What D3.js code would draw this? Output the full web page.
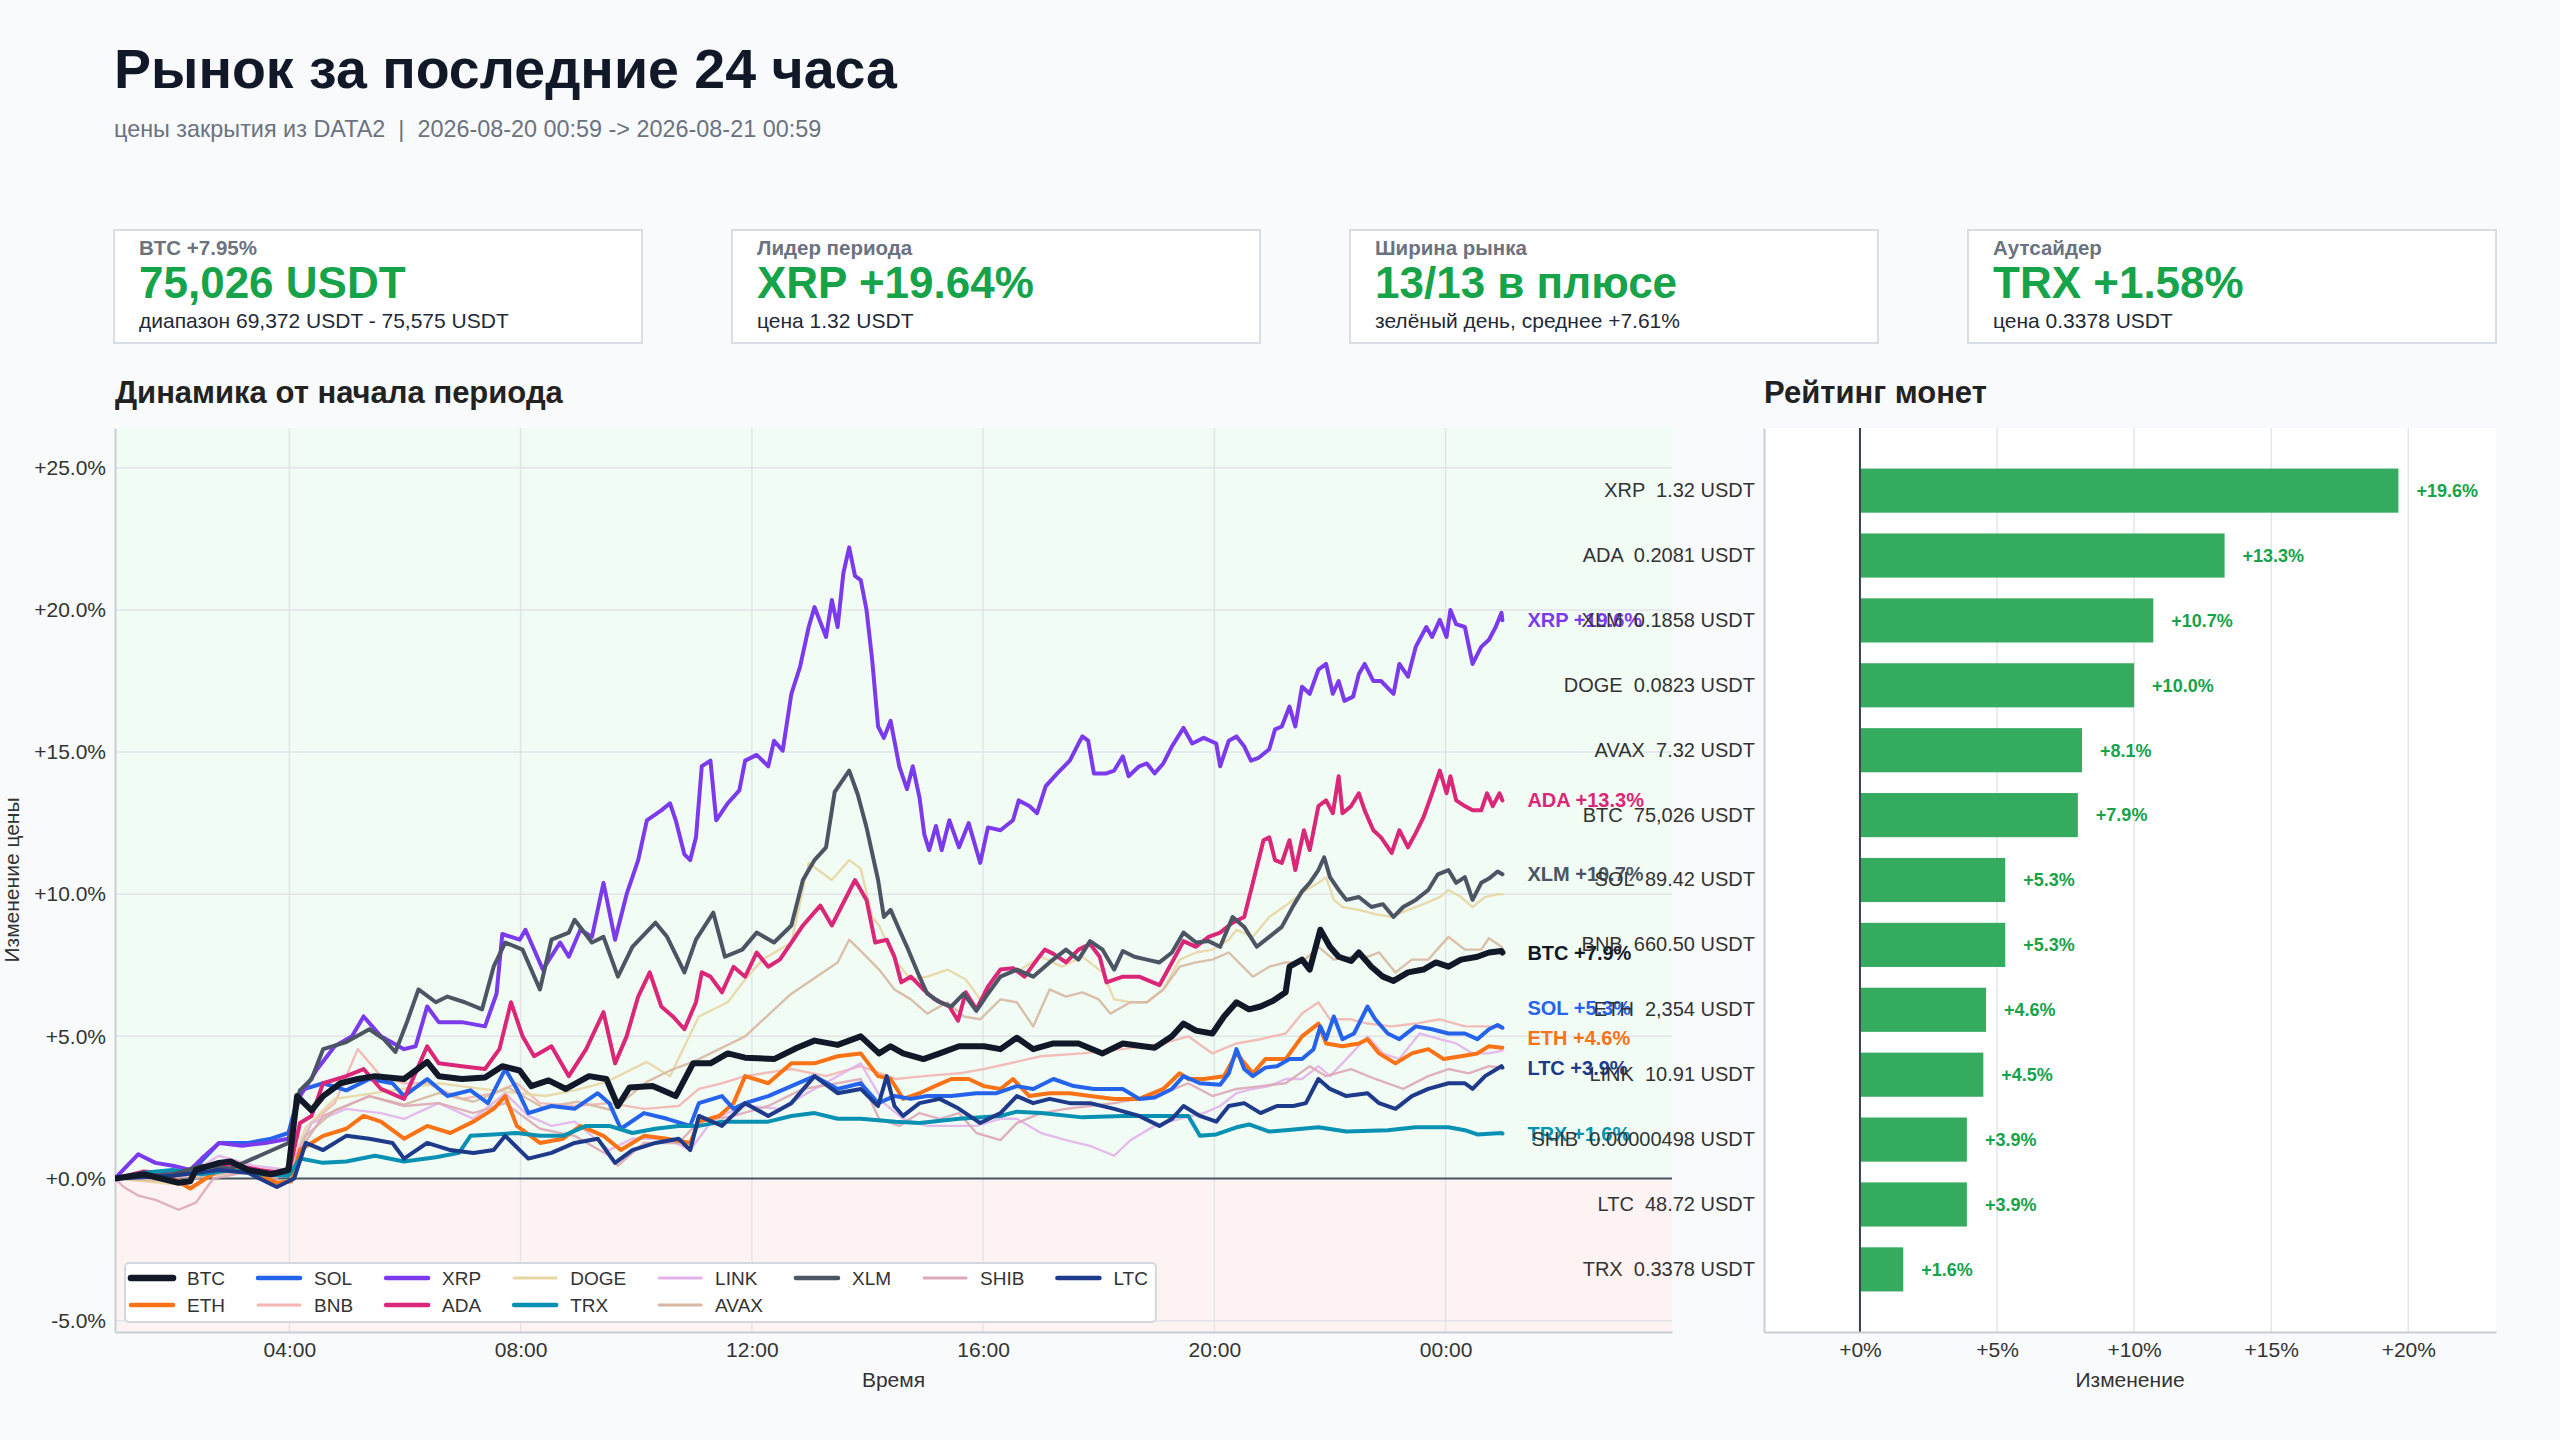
<!DOCTYPE html>
<html lang="ru">
<head>
<meta charset="utf-8">
<title>Рынок за последние 24 часа</title>
<script src="https://cdn.jsdelivr.net/npm/d3@7"></script>
<style>
  body { margin: 0; background: #f8fafc; }
  svg { display: block; font-family: "Liberation Sans", Arial, sans-serif; }
</style>
</head>
<body>
<svg id="chart" width="2560" height="1440"></svg>
<script>
// ---------------- data ----------------
var coins = ["BTC", "ETH", "SOL", "BNB", "XRP", "ADA", "DOGE", "TRX", "LINK", "AVAX", "XLM", "SHIB", "LTC"];
var coinColors = ["#111827", "#f97316", "#2563eb", "#f2b6b3", "#7c3aed", "#db2777", "#e8d6a4", "#0891b2", "#e2b4ea", "#d7b8a2", "#4b5563", "#dba9b7", "#1e3a8a"];
var emphasized = ["BTC", "ETH", "SOL", "XRP", "ADA", "TRX", "XLM", "LTC"];

// hours since 00:59, % change from start
var btcPath = [[0,0],[0.5,0.15],[1.1,-0.15],[1.3,-0.1],[1.4,0.3],[1.8,0.55],[2,0.6],[2.3,0.3],[2.7,0.15],[3,0.3],[3.15,2.9],[3.4,2.4],[3.6,2.9],[3.9,3.35],[4.2,3.5],[4.5,3.6],[5,3.5],[5.4,4.1],[5.6,3.6],[6,3.5],[6.4,3.55],[6.7,3.95],[7,3.8],[7.2,3.25],[7.5,3.45],[7.8,3.15],[8.2,3.6],[8.5,3.5],[8.7,2.55],[8.9,3.2],[9.3,3.25],[9.7,2.9],[10,4.05],[10.3,4.05],[10.6,4.4],[10.9,4.25],[11.4,4.2],[11.8,4.6],[12.1,4.85],[12.5,4.7],[12.9,5.0],[13.21,4.4],[13.42,4.65],[13.63,4.4],[13.98,4.2],[14.26,4.4],[14.6,4.65],[15.04,4.65],[15.32,4.55],[15.6,4.95],[15.88,4.55],[16.23,4.75],[16.66,4.75],[17.08,4.4],[17.43,4.75],[17.78,4.65],[17.99,4.6],[18.28,5.0],[18.49,5.45],[18.7,5.2],[18.98,5.1],[19.19,5.7],[19.4,6.2],[19.61,5.95],[19.82,6.05],[20.04,6.25],[20.25,6.55],[20.32,7.45],[20.53,7.7],[20.67,7.35],[20.85,8.75],[21.02,8.15],[21.16,7.8],[21.38,7.65],[21.52,7.95],[21.73,7.45],[21.94,7.1],[22.12,6.95],[22.36,7.25],[22.64,7.35],[22.85,7.6],[23.07,7.45],[23.28,7.7],[23.56,7.8],[23.77,7.95],[23.98,8.0],[24,7.95]];
var ethPath = [[0,0],[0.5,0.15],[1,0],[1.3,-0.35],[1.8,0.3],[2.3,0.3],[2.8,-0.15],[3.05,-0.1],[3.2,1.0],[3.6,1.5],[4,1.75],[4.3,2.2],[4.6,2.0],[5,1.4],[5.4,1.85],[5.8,1.6],[6.2,2.0],[6.55,2.45],[6.75,2.9],[6.95,1.85],[7.35,1.25],[7.75,1.4],[8.05,1.85],[8.45,1.5],[8.75,1.0],[9.15,1.5],[9.55,1.4],[9.95,1.25],[10.1,2.0],[10.45,2.2],[10.7,2.65],[10.9,3.6],[11.3,3.35],[11.7,4.05],[12.1,4.05],[12.5,4.3],[12.9,4.4],[13.2,3.6],[13.42,3.5],[13.63,2.8],[13.91,3.0],[14.19,3.25],[14.47,3.5],[14.76,3.5],[15.04,3.25],[15.32,3.15],[15.53,3.5],[15.81,2.9],[16.16,3.0],[16.52,3.0],[16.87,2.9],[17.29,2.8],[17.71,2.8],[18.14,3.15],[18.42,3.7],[18.56,3.5],[18.84,3.5],[19.19,3.6],[19.4,4.4],[19.68,3.7],[19.9,4.2],[20.25,4.2],[20.53,5.0],[20.81,5.45],[20.95,4.75],[21.23,4.65],[21.52,4.75],[21.66,4.9],[21.87,4.4],[22.15,4.05],[22.43,4.4],[22.71,4.55],[22.99,4.2],[23.28,4.3],[23.56,4.4],[23.77,4.65],[23.98,4.6],[24,4.6]];
var solPath = [[0,0],[0.6,0.1],[1.3,0.2],[1.8,1.25],[2.3,1.25],[2.7,1.4],[3,1.6],[3.2,3.1],[3.6,3.35],[4,3.1],[4.4,3.5],[4.8,3.35],[5,2.9],[5.4,3.5],[5.75,2.9],[6.15,3.1],[6.45,2.65],[6.75,3.85],[6.95,3.15],[7.15,2.3],[7.55,2.55],[7.95,2.45],[8.35,3.0],[8.55,2.65],[8.75,1.75],[9.15,2.3],[9.55,2.1],[9.95,1.85],[10.1,2.65],[10.5,2.9],[10.7,2.45],[10.9,2.65],[11.3,2.9],[11.7,3.25],[12.1,3.6],[12.5,3.15],[12.9,3.35],[13.2,2.65],[13.49,2.9],[13.77,2.8],[14.05,2.9],[14.47,2.9],[14.9,3.0],[15.25,3.0],[15.6,3.25],[15.88,3.15],[16.23,3.5],[16.59,3.25],[16.94,3.15],[17.43,3.15],[17.71,2.8],[17.99,2.85],[18.28,3.15],[18.49,3.6],[18.77,3.35],[19.12,3.3],[19.26,3.7],[19.4,4.55],[19.54,3.85],[19.68,3.6],[19.9,3.9],[20.1,3.95],[20.32,4.2],[20.53,4.2],[20.74,4.55],[20.85,5.35],[20.95,4.9],[21.09,5.7],[21.23,4.9],[21.44,5.1],[21.66,6.05],[21.8,5.6],[22.01,5.1],[22.22,4.9],[22.5,5.35],[22.78,5.25],[23.07,5.1],[23.35,5.1],[23.56,4.9],[23.77,5.25],[23.91,5.4],[24,5.3]];
var bnbPath = [[0,0],[1,0],[1.8,0.3],[3,0.3],[3.4,1.95],[3.8,2.65],[4.2,4.55],[4.6,3.6],[5,3.35],[5.4,3.35],[6,2.8],[6.55,3.0],[6.95,3.35],[7.35,2.65],[7.95,2.55],[8.55,2.65],[9.15,2.45],[9.75,2.55],[10.1,3.15],[10.5,3.35],[10.9,3.6],[11.7,3.85],[12.3,3.6],[12.9,3.95],[13.5,3.5],[14.0,3.6],[14.6,3.7],[15.04,3.85],[16.02,4.3],[16.73,4.4],[17.43,4.55],[18.14,4.75],[18.56,5.0],[18.98,4.4],[19.4,4.75],[19.82,4.9],[20.25,5.1],[20.53,5.8],[20.81,6.2],[21.02,5.6],[21.38,5.6],[21.66,5.45],[22.08,5.35],[22.5,5.45],[22.92,5.6],[23.35,5.35],[23.77,5.35],[24,5.3]];
var xrpPath = [[0,0],[0.4,0.85],[0.7,0.55],[1,0.45],[1.3,0.3],[1.5,0.7],[1.8,1.25],[2.2,1.15],[2.6,1.25],[3,1.4],[3.2,2.9],[3.5,3.85],[3.8,4.65],[4.1,5.0],[4.3,5.7],[4.6,5.0],[5,4.55],[5.2,4.65],[5.4,6.05],[5.6,5.5],[6,5.5],[6.4,5.35],[6.6,6.5],[6.7,8.6],[7,8.4],[7.1,8.75],[7.4,7.35],[7.7,8.3],[7.85,7.8],[8.05,8.75],[8.25,8.5],[8.45,10.4],[8.65,8.4],[8.85,10.0],[9.05,11.2],[9.2,12.6],[9.45,12.95],[9.6,13.2],[9.7,12.6],[9.85,11.4],[9.95,11.2],[10.05,12.0],[10.15,14.5],[10.3,14.7],[10.4,12.6],[10.6,13.2],[10.8,13.65],[10.9,14.7],[11.1,14.9],[11.3,14.5],[11.4,15.4],[11.55,15.05],[11.7,17.05],[11.85,18.0],[12,19.4],[12.1,20.1],[12.3,19.05],[12.4,20.35],[12.5,19.4],[12.6,21.3],[12.7,22.2],[12.8,21.2],[12.9,21.05],[13.0,20.0],[13.1,18.2],[13.2,15.9],[13.3,15.5],[13.42,16.1],[13.56,14.5],[13.7,13.7],[13.8,14.5],[13.91,13.4],[14.0,12.1],[14.09,11.55],[14.2,12.4],[14.3,11.55],[14.44,12.6],[14.6,11.65],[14.76,12.5],[14.97,11.1],[15.1,12.35],[15.32,12.25],[15.53,12.6],[15.64,13.3],[15.81,13.1],[15.95,12.85],[16.1,13.8],[16.3,14.25],[16.52,14.7],[16.66,15.3],[16.73,15.55],[16.83,15.4],[16.94,14.25],[17.15,14.25],[17.29,14.35],[17.43,14.85],[17.54,14.15],[17.71,14.5],[17.85,14.6],[17.99,14.25],[18.14,14.6],[18.28,15.2],[18.49,15.85],[18.63,15.3],[18.84,15.5],[19.05,15.3],[19.12,14.5],[19.26,15.4],[19.4,15.55],[19.54,15.2],[19.65,14.7],[19.79,14.8],[19.97,15.1],[20.07,15.8],[20.18,15.9],[20.32,16.6],[20.42,15.9],[20.53,17.3],[20.67,17.05],[20.81,17.9],[20.95,18.1],[21.06,17.05],[21.16,17.5],[21.27,16.8],[21.41,16.95],[21.52,17.75],[21.62,18.1],[21.76,17.5],[21.9,17.5],[22.12,17.05],[22.22,18.1],[22.36,17.65],[22.5,18.7],[22.68,19.4],[22.78,19.05],[22.92,19.65],[23.03,19.05],[23.1,20.0],[23.2,19.5],[23.35,19.4],[23.49,18.1],[23.63,18.7],[23.77,18.95],[23.88,19.4],[23.98,19.9],[24,19.64]];
var adaPath = [[0,0],[0.5,0.25],[1,0.15],[1.5,0.4],[2,0.5],[2.5,0.3],[3,0.15],[3.2,1.95],[3.4,2.2],[3.6,3.35],[4,3.6],[4.3,3.85],[4.6,3.15],[5,2.8],[5.4,4.65],[5.6,4.05],[6,3.95],[6.4,3.85],[6.65,4.55],[6.85,6.2],[7.05,5.0],[7.25,4.3],[7.55,4.65],[7.85,3.6],[8.15,4.55],[8.45,5.85],[8.65,4.05],[8.85,5.0],[9.05,6.4],[9.25,7.25],[9.45,6.05],[9.65,5.7],[9.85,5.25],[10.05,6.2],[10.15,7.25],[10.3,7.1],[10.5,6.55],[10.7,7.45],[10.9,7.1],[11.1,7.95],[11.3,7.45],[11.5,7.7],[11.7,8.3],[11.9,8.9],[12.2,9.6],[12.4,8.9],[12.6,9.7],[12.8,10.5],[13.0,9.8],[13.15,8.3],[13.35,8.4],[13.49,7.8],[13.6,6.9],[13.77,7.1],[13.98,6.65],[14.19,6.3],[14.44,6.05],[14.58,5.55],[14.72,6.55],[14.9,5.95],[15.1,6.75],[15.32,7.35],[15.53,7.4],[15.74,7.1],[15.95,7.7],[16.09,8.05],[16.23,7.9],[16.45,7.6],[16.66,8.05],[16.87,8.25],[17.04,7.8],[17.15,6.9],[17.43,7.1],[17.71,7.1],[18.07,6.8],[18.28,7.6],[18.49,8.35],[18.7,8.15],[18.91,8.5],[19.12,8.65],[19.33,9.0],[19.54,9.2],[19.68,10.4],[19.86,11.9],[19.97,12.0],[20.07,11.2],[20.18,11.1],[20.32,11.9],[20.42,10.85],[20.56,12.25],[20.67,11.55],[20.81,13.1],[20.95,13.3],[21.06,12.85],[21.16,14.15],[21.23,12.85],[21.38,13.1],[21.52,13.55],[21.62,12.95],[21.76,12.25],[21.9,12.0],[22.08,11.45],[22.22,12.25],[22.36,11.65],[22.5,12.15],[22.64,12.7],[22.78,13.55],[22.92,14.35],[23.03,13.55],[23.1,14.15],[23.2,13.3],[23.35,13.1],[23.49,12.95],[23.63,12.95],[23.74,13.55],[23.84,13.1],[23.95,13.55],[24,13.3]];
var dogePath = [[0,0],[0.5,-0.1],[1,-0.2],[1.5,0.1],[2,0.4],[2.5,0.3],[3,0.2],[3.3,1.8],[3.8,2.8],[4.8,3.1],[5.6,3.35],[6.55,3.1],[7.45,2.9],[7.95,3.1],[8.5,3.4],[9.2,4.1],[9.6,3.6],[10.1,5.7],[10.6,6.2],[10.9,7.0],[11.2,7.7],[11.7,8.3],[12.0,11.1],[12.4,10.5],[12.7,11.2],[12.9,10.9],[13.1,9.2],[13.21,8.9],[13.49,7.7],[13.77,7.0],[14.05,7.1],[14.4,7.35],[14.72,7.0],[14.97,6.3],[15.32,7.1],[15.67,7.35],[16.02,7.8],[16.38,7.45],[16.73,7.8],[17.08,7.25],[17.29,6.3],[17.57,6.2],[17.85,6.2],[18.14,6.65],[18.42,7.7],[18.7,7.95],[18.98,8.05],[19.26,8.4],[19.4,8.75],[19.68,8.5],[19.97,9.2],[20.25,9.6],[20.53,10.05],[20.81,10.4],[20.95,10.6],[21.09,9.8],[21.23,9.55],[21.52,9.45],[21.8,9.3],[22.08,9.2],[22.36,9.45],[22.64,9.65],[22.92,9.9],[23.07,10.15],[23.28,9.9],[23.49,9.55],[23.7,9.9],[23.91,10.0],[24,10.0]];
var trxPath = [[0,0],[0.5,0.2],[1,0.3],[1.5,0.15],[2,0.3],[2.5,0.15],[3,0.1],[3.2,0.7],[3.6,0.55],[4,0.6],[4.5,0.8],[5,0.6],[5.55,0.75],[5.95,0.9],[6.15,1.5],[6.55,1.55],[6.95,1.6],[7.35,1.5],[7.75,1.5],[8.15,1.85],[8.55,1.85],[8.95,1.6],[9.35,1.75],[9.75,1.85],[10.1,1.85],[10.5,2.0],[10.9,2.0],[11.3,2.0],[11.7,2.2],[12.1,2.3],[12.5,2.1],[12.9,2.1],[13.5,2.0],[13.91,1.95],[14.6,2.1],[15.32,2.2],[15.6,2.35],[16.02,2.3],[16.73,2.15],[17.43,2.2],[18.14,2.2],[18.56,2.2],[18.77,1.5],[19.05,1.55],[19.4,1.8],[19.61,1.9],[19.97,1.65],[20.25,1.7],[20.81,1.8],[21.3,1.65],[22.01,1.7],[22.5,1.8],[23.07,1.8],[23.35,1.7],[23.56,1.55],[23.98,1.6],[24,1.58]];
var linkPath = [[0,0],[0.6,0.1],[1.3,0.2],[1.8,0.8],[2.4,0.45],[3,0.3],[3.4,1.95],[4,2.45],[4.6,2.3],[5,2.1],[5.6,2.65],[6.2,2.1],[6.75,3.0],[7.15,2.2],[7.55,1.85],[7.95,2.0],[8.55,1.0],[8.95,1.4],[9.55,1.4],[9.95,1.0],[10.35,2.1],[10.9,2.55],[11.5,2.45],[12.1,3.15],[12.9,4.05],[13.3,2.65],[13.63,2.1],[14.05,1.85],[14.47,1.85],[14.9,1.85],[15.32,2.1],[15.6,2.1],[16.02,1.6],[16.45,1.35],[16.87,1.15],[17.29,0.8],[17.57,1.35],[17.99,1.85],[18.42,2.1],[18.84,2.3],[19.12,2.55],[19.4,3.0],[19.68,3.15],[19.97,3.25],[20.25,3.5],[20.53,3.5],[20.81,3.95],[21.02,3.6],[21.3,4.2],[21.66,5.0],[21.94,4.4],[22.22,4.2],[22.57,5.1],[22.92,4.9],[23.2,4.75],[23.49,4.4],[23.77,4.4],[24,4.5]];
var avaxPath = [[0,0],[1,-0.1],[2,0.2],[3,0.1],[3.3,1.5],[3.8,2.4],[4.4,2.9],[5,2.6],[5.6,3.0],[6.2,2.7],[6.8,3.2],[7.4,2.5],[8,2.7],[8.6,2.4],[9.2,3.4],[9.6,3.8],[10,4.1],[10.9,5.0],[11.7,6.5],[12.5,7.6],[12.7,8.4],[12.95,7.9],[13.21,7.35],[13.49,6.65],[13.77,6.3],[14.05,5.8],[14.4,6.2],[14.68,5.7],[14.97,5.6],[15.32,6.3],[15.6,6.2],[15.88,5.35],[16.16,6.65],[16.45,6.4],[16.73,6.55],[17.01,6.3],[17.22,5.8],[17.57,6.2],[17.85,6.2],[18.14,6.65],[18.42,7.45],[18.7,7.6],[18.98,7.7],[19.26,7.95],[19.68,7.1],[19.97,7.45],[20.25,7.6],[20.53,7.6],[20.81,8.15],[21.09,7.7],[21.38,7.8],[21.66,7.8],[21.87,7.95],[22.15,7.25],[22.43,7.7],[22.71,7.7],[23.07,8.5],[23.35,8.05],[23.63,8.05],[23.77,8.45],[23.98,8.15],[24,8.1]];
var xlmPath = [[0,0],[1,0.15],[1.5,0.45],[2,0.35],[2.5,0.8],[3,1.25],[3.2,3.1],[3.4,3.5],[3.6,4.55],[4,4.8],[4.4,5.25],[4.65,4.9],[4.85,4.45],[5.05,5.5],[5.25,6.65],[5.55,6.2],[5.75,6.4],[6.05,6.2],[6.35,5.95],[6.55,7.45],[6.75,8.3],[7.05,8.05],[7.35,6.65],[7.55,8.4],[7.85,8.65],[7.95,9.1],[8.25,8.3],[8.45,8.5],[8.7,7.1],[8.95,8.15],[9.35,9.0],[9.55,8.5],[9.85,7.25],[10.05,8.4],[10.35,9.35],[10.55,7.8],[10.85,8.05],[11.1,8.65],[11.4,8.3],[11.7,8.9],[11.9,10.5],[12.1,11.2],[12.3,11.65],[12.45,13.6],[12.7,14.35],[12.85,13.5],[13.0,12.35],[13.2,10.5],[13.3,9.2],[13.42,9.45],[13.56,8.75],[13.7,8.15],[13.91,7.1],[14.05,6.5],[14.26,6.2],[14.47,6.05],[14.68,6.5],[14.9,5.9],[15.1,6.5],[15.32,7.1],[15.6,7.35],[15.88,7.1],[16.16,7.6],[16.45,8.05],[16.66,7.7],[16.87,8.35],[17.08,8.05],[17.29,7.35],[17.43,8.0],[17.64,7.8],[17.85,7.7],[18.07,7.6],[18.28,7.95],[18.49,8.65],[18.7,8.3],[18.91,8.35],[19.12,8.15],[19.33,9.2],[19.54,8.85],[19.75,8.15],[19.97,8.5],[20.18,8.85],[20.39,9.6],[20.53,10.1],[20.67,10.4],[20.81,10.85],[20.92,11.3],[21.02,10.6],[21.16,10.15],[21.3,9.8],[21.52,9.9],[21.73,9.55],[21.94,9.65],[22.12,9.2],[22.29,9.55],[22.5,9.8],[22.71,10.15],[22.89,10.7],[23.07,10.85],[23.2,10.4],[23.35,10.6],[23.49,9.8],[23.63,10.4],[23.77,10.55],[23.91,10.8],[24,10.7]];
var shibPath = [[0,0],[0.15,-0.3],[0.4,-0.6],[0.7,-0.75],[1.1,-1.1],[1.4,-0.85],[1.7,0],[2.2,0.2],[2.8,0],[3.2,1.0],[3.6,2.2],[4,2.55],[4.4,2.9],[5,2.55],[5.6,2.65],[6.2,2.3],[6.75,2.65],[7.35,1.75],[7.95,1.5],[8.55,0.8],[8.7,0.45],[9.15,1.25],[9.75,1.25],[10.1,2.0],[10.7,2.2],[11.3,2.55],[11.9,3.15],[12.5,3.35],[12.9,3.5],[13.21,2.1],[13.56,1.85],[13.91,2.3],[14.26,2.1],[14.6,2.3],[14.9,1.6],[15.32,1.35],[15.6,1.95],[16.02,2.3],[16.45,2.45],[16.87,2.55],[17.29,2.65],[17.71,2.8],[18.14,3.0],[18.56,3.35],[18.98,2.9],[19.4,3.15],[19.82,3.25],[20.25,3.35],[20.67,3.95],[20.95,3.6],[21.38,3.85],[21.8,3.5],[22.29,3.15],[22.71,3.6],[23.07,3.85],[23.42,3.7],[23.77,3.95],[24,3.9]];
var ltcPath = [[0,0],[1,0.1],[1.8,0.3],[2.3,0.2],[2.8,-0.3],[3.1,0],[3.3,1.25],[3.6,1.0],[4,1.5],[4.4,1.4],[4.8,1.25],[5,0.7],[5.4,1.25],[5.8,1.0],[6.2,0.9],[6.55,1.0],[6.75,1.5],[7.15,0.7],[7.55,0.9],[7.95,1.25],[8.35,1.4],[8.65,0.55],[8.95,1.0],[9.35,1.25],[9.75,1.4],[9.95,1.0],[10.1,2.2],[10.5,1.85],[10.9,2.65],[11.3,2.2],[11.7,2.65],[12.1,3.6],[12.5,3.0],[12.9,3.15],[13.2,2.55],[13.35,3.6],[13.49,2.55],[13.63,2.2],[13.91,2.65],[14.26,2.8],[14.6,2.45],[14.97,1.95],[15.32,2.3],[15.6,2.9],[15.88,2.65],[16.16,2.8],[16.52,2.65],[16.87,2.65],[17.29,2.45],[17.71,2.2],[18.07,1.85],[18.28,2.1],[18.49,2.55],[18.77,2.2],[19.05,2.0],[19.26,2.55],[19.54,2.65],[19.82,2.3],[20.1,2.55],[20.39,2.55],[20.6,2.65],[20.81,3.5],[21.02,3.15],[21.3,2.9],[21.66,3.0],[21.87,2.65],[22.15,2.45],[22.43,2.9],[22.71,3.15],[23.07,3.35],[23.35,3.35],[23.49,3.15],[23.7,3.6],[23.98,3.95],[24,3.9]];
var paths = [btcPath, ethPath, solPath, bnbPath, xrpPath, adaPath, dogePath, trxPath, linkPath, avaxPath, xlmPath, shibPath, ltcPath];

// ranking (sorted by change)
var rankCoins  = ["XRP", "ADA", "XLM", "DOGE", "AVAX", "BTC", "SOL", "BNB", "ETH", "LINK", "SHIB", "LTC", "TRX"];
var rankChange = [19.64, 13.3, 10.7, 10.0, 8.1, 7.948, 5.3, 5.3, 4.6, 4.5, 3.9, 3.9, 1.58];
var rankPrice  = ["1.32", "0.2081", "0.1858", "0.0823", "7.32", "75,026", "89.42", "660.50", "2,354", "10.91", "0.00000498", "48.72", "0.3378"];

// KPI cards
var kpiLabels = ["BTC +7.95%", "Лидер периода", "Ширина рынка", "Аутсайдер"];
var kpiValues = ["75,026 USDT", "XRP +19.64%", "13/13 в плюсе", "TRX +1.58%"];
var kpiNotes  = ["диапазон 69,372 USDT - 75,575 USDT", "цена 1.32 USDT", "зелёный день, среднее +7.61%", "цена 0.3378 USDT"];

var yTicks = [-5, 0, 5, 10, 15, 20, 25];
var barTicks = [0, 5, 10, 15, 20];

// ---------------- layout ----------------
var svg = d3.select("#chart");
var W = 2560, H = 1440;
var left = { x0: 115, x1: 1672, y0: 428, y1: 1332 };
var right = { x0: 1764, x1: 2496, y0: 428, y1: 1332 };
var pct1 = d3.format("+.1f");

svg.append("rect").attr("width", W).attr("height", H).attr("fill", "#f8fafc");

// header
svg.append("text").attr("x", 114).attr("y", 88)
  .attr("font-size", 55.5).attr("font-weight", "bold").attr("fill", "#111827")
  .text("Рынок за последние 24 часа");
svg.append("text").attr("x", 114).attr("y", 137)
  .attr("font-size", 23.4).attr("fill", "#6b7280").style("white-space", "pre")
  .text("цены закрытия из DATA2  |  2026-08-20 00:59 -> 2026-08-21 00:59");

// KPI cards
var cardW = 528, cardGap = 90;
kpiLabels.forEach(function(label, i) {
  var cx = 114 + i * (cardW + cardGap);
  var g = svg.append("g").attr("transform", "translate(" + cx + ",230)");
  g.append("rect").attr("width", cardW).attr("height", 113)
    .attr("fill", "#ffffff").attr("stroke", "#d9dee6").attr("stroke-width", 2);
  g.append("text").attr("x", 25).attr("y", 25).attr("font-size", 20.5)
    .attr("font-weight", "bold").attr("fill", "#6b7280").text(label);
  g.append("text").attr("x", 25).attr("y", 68).attr("font-size", 44)
    .attr("font-weight", "bold").attr("fill", "#16a34a").text(kpiValues[i]);
  g.append("text").attr("x", 25).attr("y", 98).attr("font-size", 21)
    .attr("fill", "#1f2937").text(kpiNotes[i]);
});

// section titles
svg.append("text").attr("x", 115).attr("y", 403).attr("font-size", 31)
  .attr("font-weight", "bold").attr("fill", "#222").text("Динамика от начала периода");
svg.append("text").attr("x", 1764).attr("y", 403).attr("font-size", 31)
  .attr("font-weight", "bold").attr("fill", "#222").text("Рейтинг монет");

/* ------------------------------ line chart ------------------------------ */
var start = new Date(2026, 7, 20, 0, 59);
var x = d3.scaleTime()
  .domain([start, d3.timeMinute.offset(start, 1616)])
  .range([left.x0, left.x1]);
var y = d3.scaleLinear().domain([-5.4, 26.4]).range([left.y1, left.y0]);
var toDate = function(h) { return d3.timeMinute.offset(start, Math.round(h * 60)); };

// background zones
svg.append("rect").attr("x", left.x0).attr("y", y(26.4))
  .attr("width", left.x1 - left.x0).attr("height", y(0) - y(26.4)).attr("fill", "#f1fcf4");
svg.append("rect").attr("x", left.x0).attr("y", y(0))
  .attr("width", left.x1 - left.x0).attr("height", y(-5.4) - y(0)).attr("fill", "#fdf3f3");

// grid
var xTicks = x.ticks(d3.timeHour.every(4));
svg.append("g").selectAll("line").data(xTicks).enter().append("line")
  .attr("x1", function(d) { return x(d); }).attr("x2", function(d) { return x(d); })
  .attr("y1", left.y0).attr("y2", left.y1)
  .attr("stroke", "#e1e5ea").attr("stroke-width", 1.5);
svg.append("g").selectAll("line").data(yTicks).enter().append("line")
  .attr("x1", left.x0).attr("x2", left.x1)
  .attr("y1", function(d) { return y(d); }).attr("y2", function(d) { return y(d); })
  .attr("stroke", "#e1e5ea").attr("stroke-width", 1.5);

// zero line
svg.append("line").attr("x1", left.x0).attr("x2", left.x1)
  .attr("y1", y(0)).attr("y2", y(0)).attr("stroke", "#4b5563").attr("stroke-width", 2);

// axes
var xAxis = svg.append("g").attr("transform", "translate(0," + left.y1 + ")")
  .call(d3.axisBottom(x).tickValues(xTicks).tickFormat(d3.timeFormat("%H:%M")).tickSize(0).tickPadding(10));
var yAxis = svg.append("g").attr("transform", "translate(" + left.x0 + ",0)")
  .call(d3.axisLeft(y).tickValues(yTicks)
    .tickFormat(function(d) { return (d >= 0 ? "+" : "") + d.toFixed(1) + "%"; })
    .tickSize(0).tickPadding(9));
[xAxis, yAxis].forEach(function(a) {
  a.select(".domain").attr("stroke", "#c9ced6").attr("stroke-width", 2);
  a.selectAll("text").attr("font-size", 21).attr("fill", "#333")
    .attr("font-family", "Liberation Sans, Arial, sans-serif");
});

svg.append("text").attr("x", (left.x0 + left.x1) / 2).attr("y", 1387)
  .attr("text-anchor", "middle").attr("font-size", 21).attr("fill", "#333").text("Время");
svg.append("text").attr("transform", "translate(19," + (left.y0 + left.y1) / 2 + ") rotate(-90)")
  .attr("text-anchor", "middle").attr("font-size", 21).attr("fill", "#333").text("Изменение цены");

// lines
svg.append("clipPath").attr("id", "plotClip").append("rect")
  .attr("x", left.x0).attr("y", left.y0).attr("width", left.x1 - left.x0).attr("height", left.y1 - left.y0);

function lineWidth(c) { return c === "BTC" ? 6 : (emphasized.indexOf(c) >= 0 ? 4 : 2.4); }

var line = d3.line()
  .x(function(d) { return x(toDate(d[0])); })
  .y(function(d) { return y(d[1]); });

var drawOrder = coins.map(function(c, i) { return i; }).sort(function(a, b) {
  var ra = coins[a] === "BTC" ? 2 : (emphasized.indexOf(coins[a]) >= 0 ? 1 : 0);
  var rb = coins[b] === "BTC" ? 2 : (emphasized.indexOf(coins[b]) >= 0 ? 1 : 0);
  return ra - rb || a - b;
});

var lines = svg.append("g").attr("clip-path", "url(#plotClip)");
drawOrder.forEach(function(i) {
  var c = coins[i];
  lines.append("path").datum(paths[i])
    .attr("d", line)
    .attr("fill", "none")
    .attr("stroke", coinColors[i])
    .attr("stroke-width", lineWidth(c))
    .attr("stroke-linejoin", "round")
    .attr("stroke-linecap", "round")
    .attr("opacity", emphasized.indexOf(c) >= 0 ? 1 : 0.9);
});

// end labels with simple collision avoidance
var endItems = emphasized.map(function(c) {
  var v = rankChange[rankCoins.indexOf(c)];
  return { coin: c, value: v, y: y(v), color: coinColors[coins.indexOf(c)] };
}).sort(function(a, b) { return b.y - a.y; });
for (var k = 1; k < endItems.length; k++) {
  endItems[k].y = Math.min(endItems[k].y, endItems[k - 1].y - 30);
}
svg.append("g").selectAll("text").data(endItems).enter().append("text")
  .attr("x", x(toDate(24)) + 25)
  .attr("y", function(d) { return d.y; })
  .attr("dy", "0.35em")
  .attr("font-size", 20).attr("font-weight", "bold")
  .attr("fill", function(d) { return d.color; })
  .text(function(d) { return d.coin + " " + pct1(d.value) + "%"; });

// legend: 8 columns, first columns get two rows (matplotlib style)
var legend = svg.append("g");
var legendBox = legend.append("rect").attr("x", 125).attr("y", 1263).attr("height", 59)
  .attr("rx", 4).attr("fill", "#ffffff").attr("fill-opacity", 0.92)
  .attr("stroke", "#d4d8de").attr("stroke-width", 2);
var nCols = 8, nTwo = coins.length - nCols;
var colX = 131, idx = 0;
for (var col = 0; col < nCols; col++) {
  var maxW = 0, rows = col < nTwo ? 2 : 1;
  for (var row = 0; row < rows; row++, idx++) {
    var ly = 1278 + row * 27;
    legend.append("line").attr("x1", colX).attr("x2", colX + 42)
      .attr("y1", ly).attr("y2", ly)
      .attr("stroke", coinColors[idx]).attr("stroke-width", lineWidth(coins[idx]) + 0.6)
      .attr("stroke-linecap", "round");
    var t = legend.append("text").attr("x", colX + 56).attr("y", ly).attr("dy", "0.35em")
      .attr("font-size", 19).attr("fill", "#333").text(coins[idx]);
    maxW = Math.max(maxW, t.node().getComputedTextLength());
  }
  colX += 56 + maxW + 33;
}
legendBox.attr("width", colX - 33 + 8 - 125);

/* ------------------------------ ranking bars ------------------------------ */
var xr = d3.scaleLinear().domain([-3.5, 23.2]).range([right.x0, right.x1]);
var yb = d3.scaleBand().domain(rankCoins).range([right.y0, right.y1])
  .paddingInner(0.32).paddingOuter(0.625);

svg.append("rect").attr("x", right.x0).attr("y", right.y0)
  .attr("width", right.x1 - right.x0).attr("height", right.y1 - right.y0).attr("fill", "#ffffff");

svg.append("g").selectAll("line").data(barTicks).enter().append("line")
  .attr("x1", function(d) { return xr(d); }).attr("x2", function(d) { return xr(d); })
  .attr("y1", right.y0).attr("y2", right.y1)
  .attr("stroke", "#e3e6ea").attr("stroke-width", 1.5);

svg.append("g").selectAll("rect").data(rankCoins).enter().append("rect")
  .attr("x", xr(0))
  .attr("y", function(d) { return yb(d); })
  .attr("width", function(d, i) { return xr(rankChange[i]) - xr(0); })
  .attr("height", yb.bandwidth())
  .attr("fill", "#34ab5f");

svg.append("g").selectAll("text").data(rankCoins).enter().append("text")
  .attr("x", function(d, i) { return xr(rankChange[i]) + 18; })
  .attr("y", function(d) { return yb(d) + yb.bandwidth() / 2; })
  .attr("dy", "0.35em")
  .attr("font-size", 18).attr("font-weight", "bold").attr("fill", "#16a34a")
  .text(function(d, i) { return pct1(rankChange[i]) + "%"; });

svg.append("line").attr("x1", xr(0)).attr("x2", xr(0))
  .attr("y1", right.y0).attr("y2", right.y1).attr("stroke", "#374151").attr("stroke-width", 2);

var xrAxis = svg.append("g").attr("transform", "translate(0," + right.y1 + ")")
  .call(d3.axisBottom(xr).tickValues(barTicks).tickFormat(function(d) { return "+" + d + "%"; })
    .tickSize(0).tickPadding(10));
var ybAxis = svg.append("g").attr("transform", "translate(" + right.x0 + ",0)")
  .call(d3.axisLeft(yb).tickSize(0).tickPadding(9)
    .tickFormat(function(d, i) { return d + "  " + rankPrice[i] + " USDT"; }));
[xrAxis, ybAxis].forEach(function(a) {
  a.select(".domain").attr("stroke", "#c9ced6").attr("stroke-width", 2);
  a.selectAll("text").attr("font-size", 20).attr("fill", "#333").style("white-space", "pre")
    .attr("font-family", "Liberation Sans, Arial, sans-serif");
});
xrAxis.selectAll("text").attr("font-size", 21);

svg.append("text").attr("x", (right.x0 + right.x1) / 2).attr("y", 1387)
  .attr("text-anchor", "middle").attr("font-size", 21).attr("fill", "#333").text("Изменение");
</script>
</body>
</html>
